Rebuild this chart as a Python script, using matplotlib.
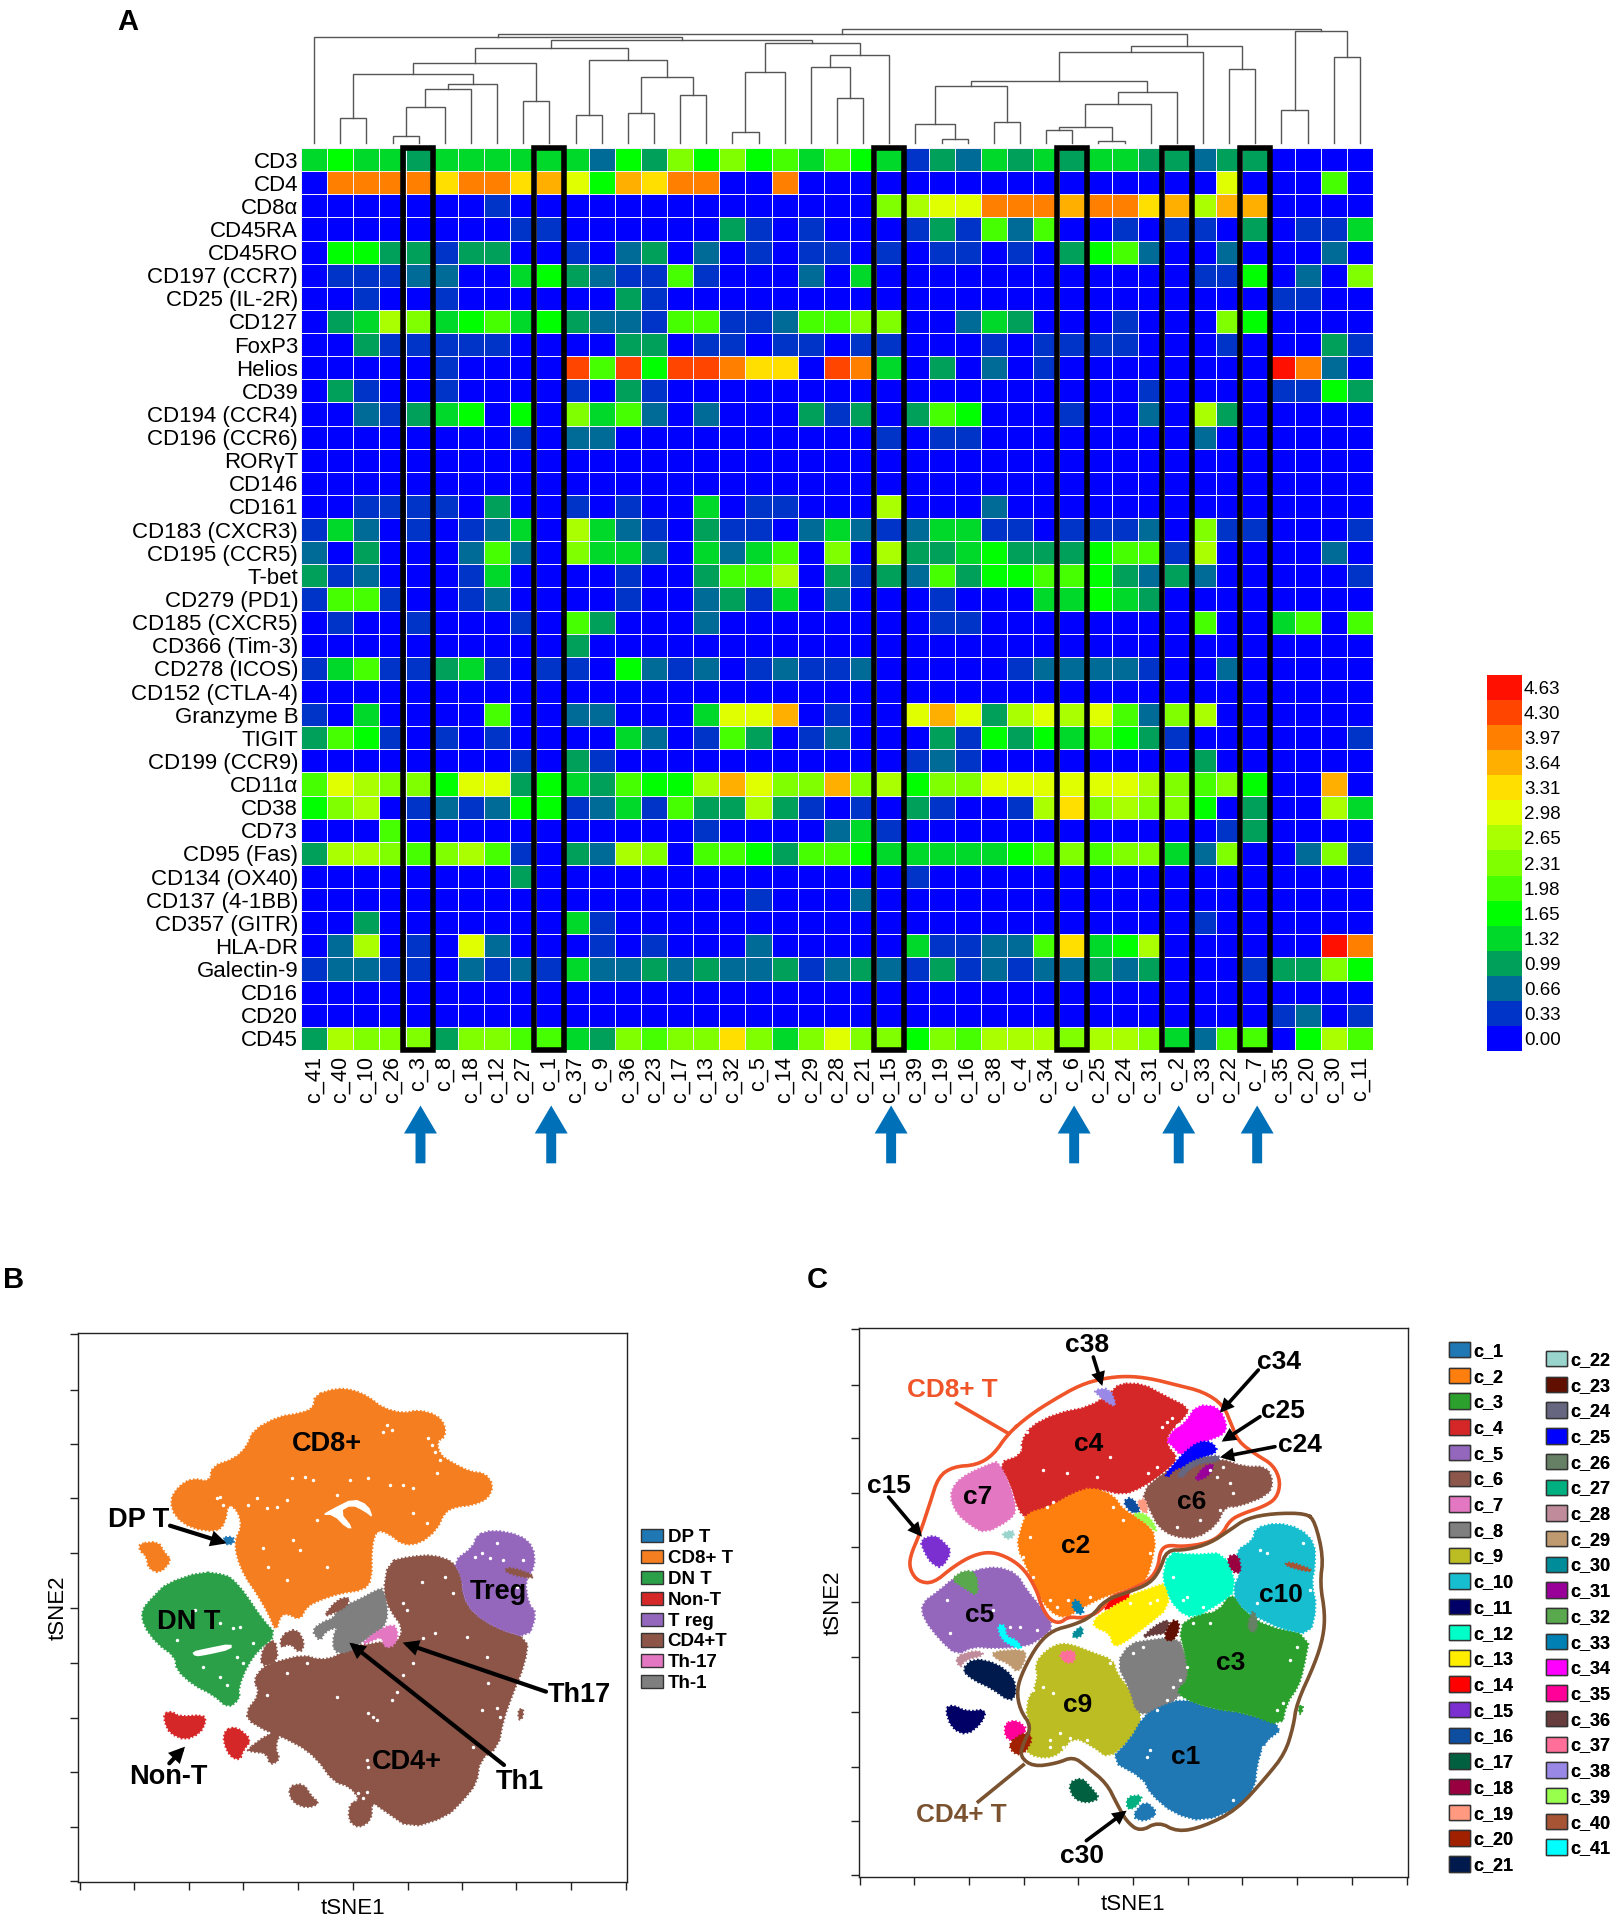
import matplotlib
matplotlib.use("Agg")
import matplotlib.pyplot as plt
import numpy as np
from matplotlib.colors import ListedColormap, BoundaryNorm
from matplotlib.patches import Rectangle, FancyArrow, Patch

plt.rcParams['font.family'] = ['Liberation Sans', 'DejaVu Sans']
W, H = 1617, 1920

# ---------- panel A data ----------
clusters = ['c_41','c_40','c_10','c_26','c_3','c_8','c_18','c_12','c_27','c_1','c_37','c_9','c_36','c_23','c_17','c_13','c_32','c_5','c_14','c_29','c_28','c_21','c_15','c_39','c_19','c_16','c_38','c_4','c_34','c_6','c_25','c_24','c_31','c_2','c_33','c_22','c_7','c_35','c_20','c_30','c_11']
markers = ['CD3','CD4','CD8α','CD45RA','CD45RO','CD197 (CCR7)','CD25 (IL-2R)','CD127','FoxP3','Helios','CD39','CD194 (CCR4)','CD196 (CCR6)','RORγT','CD146','CD161','CD183 (CXCR3)','CD195 (CCR5)','T-bet','CD279 (PD1)','CD185 (CXCR5)','CD366 (Tim-3)','CD278 (ICOS)','CD152 (CTLA-4)','Granzyme B','TIGIT','CD199 (CCR9)','CD11α','CD38','CD73','CD95 (Fas)','CD134 (OX40)','CD137 (4-1BB)','CD357 (GITR)','HLA-DR','Galectin-9','CD16','CD20','CD45']
scale_values = [0.00,0.33,0.66,0.99,1.32,1.65,1.98,2.31,2.65,2.98,3.31,3.64,3.97,4.30,4.63]
scale_colors = ['#0000ff','#0033c8','#006b96','#00a05a','#00d82a','#00ff00','#46ff00','#7fff00','#aaff00','#e0ff00','#ffdf00','#ffaf00','#ff7f00','#ff4500','#ff1000']
highlighted = ['c_3','c_1','c_15','c_6','c_2','c_7']

# each row: colour-scale class (index into scale_values) per cluster
CD3    = [4,5,4,4,3,4,4,4,4,4,4,2,5,3,7,5,7,5,6,4,6,5,4,1,3,2,4,3,4,3,4,4,3,3,2,3,3,0,0,0,0]
CD4    = [0,12,12,12,12,10,12,12,10,11,9,5,11,10,12,12,0,0,12,0,0,0,0,0,0,0,0,0,0,0,0,0,0,0,0,9,0,0,0,6,0]
CD8a   = [0,0,0,0,0,0,0,1,0,0,0,0,0,0,0,0,0,0,0,0,0,0,7,8,9,9,12,12,12,11,12,12,10,11,8,11,11,0,0,0,0]
CD45RA = [0,0,0,0,0,0,0,0,1,1,0,0,0,0,0,0,3,1,0,1,0,0,0,1,3,1,6,2,6,0,0,1,0,1,1,0,3,0,1,1,4]
CD45RO = [0,5,5,3,3,1,3,3,0,0,1,0,2,3,0,2,0,1,0,1,1,0,1,0,1,1,0,1,0,3,5,6,2,0,0,2,0,0,0,2,0]
CCR7   = [0,1,1,1,2,2,0,0,4,5,3,2,1,1,6,1,0,0,0,2,0,4,0,0,0,0,0,0,0,0,0,0,0,0,1,1,5,0,2,0,7]
CD25   = [0,0,1,0,0,1,0,0,0,0,0,0,3,1,0,0,0,0,0,0,0,0,0,0,0,0,0,0,0,0,0,0,0,0,0,0,0,1,1,0,0]
CD127  = [0,3,4,8,7,4,5,6,4,5,3,2,2,1,6,6,1,1,2,6,6,7,7,0,0,2,4,3,0,0,0,1,0,0,0,7,5,0,0,0,0]
FoxP3  = [0,0,3,1,1,1,1,1,0,0,0,0,3,3,0,1,1,0,1,1,0,1,1,0,0,0,1,0,1,1,1,1,0,0,0,1,0,0,0,3,1]
Helios = [0,0,0,0,0,1,0,0,0,0,13,6,13,5,13,13,12,10,10,0,13,12,4,0,3,0,2,0,1,0,0,0,0,0,0,0,0,14,12,2,0]
CD39   = [0,3,1,0,0,1,0,0,0,0,1,0,3,1,0,0,0,0,0,0,0,0,0,0,0,0,0,0,0,0,0,0,1,0,0,0,0,1,1,5,3]
CCR4   = [0,0,2,1,3,4,5,0,5,0,7,4,6,2,0,2,0,0,0,3,1,3,0,3,6,5,0,0,0,1,0,0,2,0,8,3,0,0,0,0,0]
CCR6   = [0,0,0,0,0,0,0,0,1,0,2,2,0,0,0,0,0,0,0,0,0,0,1,0,1,1,0,0,0,0,0,0,0,0,2,0,0,0,0,0,0]
RORgT  = [0]*41
CD146  = [0]*41
CD161  = [0,0,1,1,1,1,0,3,0,0,1,0,1,0,0,4,0,1,1,0,0,0,8,0,0,0,2,0,0,0,0,0,0,0,0,0,0,0,0,0,0]
CXCR3  = [1,4,2,0,1,0,1,2,4,0,8,4,2,1,0,3,1,1,0,2,4,2,1,2,4,4,1,1,0,1,1,1,2,0,7,1,1,0,0,0,1]
CCR5   = [2,0,3,0,0,0,2,6,2,0,7,4,4,2,0,4,2,4,6,0,7,0,8,3,3,4,5,3,3,3,5,6,6,1,8,0,0,0,0,2,0]
Tbet   = [3,1,2,0,0,0,1,4,0,0,0,0,1,0,0,3,6,6,8,0,3,1,3,2,6,3,5,5,6,6,5,3,2,3,2,0,0,0,0,0,1]
PD1    = [1,6,6,1,0,0,1,2,0,0,0,0,1,0,0,2,3,1,4,0,2,0,0,0,1,0,0,0,4,4,5,4,3,0,0,0,0,0,0,0,0]
CXCR5  = [0,1,0,0,1,0,0,0,1,0,6,3,0,0,0,2,0,0,0,0,0,0,0,0,1,1,0,0,0,0,0,0,0,0,6,0,0,4,6,0,6]
Tim3   = [0,0,0,0,0,0,0,0,0,0,3,0,0,0,0,0,0,0,0,0,0,0,0,0,0,0,0,0,0,0,0,0,0,0,0,0,0,0,0,0,0]
ICOS   = [1,4,6,1,1,3,4,1,0,1,1,0,5,2,1,2,0,1,2,1,1,2,0,0,0,0,0,1,2,2,2,2,1,0,0,2,0,0,0,0,0]
CTLA4  = [0]*41
GzmB   = [1,0,4,0,0,0,0,6,0,0,2,2,0,0,0,4,9,9,11,0,1,0,0,9,11,9,3,8,9,8,9,6,2,7,8,0,0,0,0,0,0]
TIGIT  = [3,6,5,1,0,1,0,1,0,0,0,0,4,2,0,1,6,3,0,1,2,0,0,0,3,1,5,3,5,4,6,5,3,1,0,0,0,0,0,0,1]
CCR9   = [0,0,0,0,0,0,0,0,1,0,3,1,0,0,0,0,0,0,0,0,0,0,0,1,2,1,0,0,0,0,0,0,0,0,3,0,0,0,0,0,0]
CD11a  = [6,9,8,7,7,5,9,9,3,5,4,3,6,5,5,8,11,9,7,7,11,7,8,5,7,7,9,9,9,9,9,9,8,7,6,7,5,0,0,11,0]
CD38   = [5,7,8,0,1,2,1,2,5,5,1,2,4,1,6,3,3,8,3,1,0,1,0,3,1,0,0,1,8,10,7,8,7,7,5,0,3,0,0,8,4]
CD73   = [0,0,0,6,0,0,0,0,0,0,0,0,0,0,0,1,0,0,0,0,2,4,1,0,0,0,0,0,0,0,0,0,0,0,0,1,3,0,0,0,0]
CD95   = [3,8,8,7,6,7,8,6,1,0,3,2,8,7,0,6,6,5,3,6,6,5,4,4,4,4,4,5,6,7,6,7,7,4,2,7,0,0,2,7,1]
OX40   = [0,0,0,0,0,0,0,0,3,0,0,0,0,0,0,0,0,0,0,0,0,0,0,1,0,0,0,0,0,0,0,0,0,0,0,0,0,0,0,0,0]
CD137  = [0,0,0,0,0,0,0,0,0,0,0,0,0,0,0,0,0,1,0,0,0,2,0,0,0,0,0,0,0,0,0,0,0,0,0,0,0,0,0,0,0]
GITR   = [0,0,3,0,0,0,0,0,0,0,4,1,0,0,0,0,0,0,0,0,0,0,0,0,0,0,0,0,0,0,0,0,0,0,1,0,0,0,0,0,0]
HLADR  = [0,2,8,0,1,0,9,2,0,0,0,1,0,1,0,0,0,2,0,0,0,0,0,4,1,1,2,2,6,10,4,5,8,0,0,0,0,0,0,14,12]
Gal9   = [1,2,2,1,1,0,2,1,2,1,4,2,2,3,2,3,2,2,3,1,2,3,2,1,3,1,2,1,2,2,3,2,3,0,0,0,1,3,3,7,5]
CD16   = [0]*41
CD20   = [0]*37 + [1,2,0,1]
CD45   = [3,8,7,7,7,3,7,7,6,6,4,3,7,6,7,7,10,7,4,7,9,7,7,5,7,6,8,8,8,7,8,8,7,4,2,6,6,0,5,8,6]
rows = [CD3,CD4,CD8a,CD45RA,CD45RO,CCR7,CD25,CD127,FoxP3,Helios,CD39,CCR4,CCR6,RORgT,CD146,CD161,CXCR3,CCR5,Tbet,PD1,CXCR5,Tim3,ICOS,CTLA4,GzmB,TIGIT,CCR9,CD11a,CD38,CD73,CD95,OX40,CD137,GITR,HLADR,Gal9,CD16,CD20,CD45]

# dendrogram merges: (node, left, right, height); ints are column positions
merges = [('a',3,4,7),('b','a',5,36),('c','b',6,54),('d','c',7,59),('e',1,2,25),('f','e','d',69),
          ('g',8,9,42),('h','f','g',80),('i',10,11,28),('j',12,13,30),('k',14,15,48),('l','j','k',66),
          ('m','i','l',83),('n','h','m',95),('o',16,17,11),('p','o',18,71),('q',20,21,45),('r',19,'q',76),
          ('s','r',22,88),('t','p','s',100),('u','n','t',103),('v',0,'u',106),
          ('w',24,25,4),('x',23,'w',19),('y',26,27,21),('z','x','y',57),('a2',28,29,13),('b2',30,31,2),
          ('c2','a2','b2',16),('d2','c2',32,39),('e2','d2',33,51),('f2','z','e2',62),('g2','f2',34,91),
          ('h2',35,36,74),('i2','g2','h2',97),('j2','v','i2',109),('k2',37,38,33),('l2',39,40,86),
          ('m2','k2','l2',112),('n2','j2','m2',114)]

# ---------- panel B data (regions traced on the tSNE map) ----------
B_CD8 = [(585,45),(650,25),(700,30),(745,50),(790,85),(850,100),(895,90),(950,105),(975,135),(975,170),(950,185),(960,225),(1000,250),(1050,275),(1095,280),(1120,315),(1105,355),(1060,375),(1010,380),(975,395),(950,450),(900,490),(850,495),(805,460),(770,450),(755,500),(755,600),(730,630),(660,640),(600,660),(560,680),(540,720),(500,700),(480,710),(468,755),(445,700),(410,640),(375,590),(350,530),(345,480),(365,440),(355,395),(325,370),(315,430),(290,455),(215,445),(165,410),(150,360),(175,320),(215,295),(270,305),(275,260),(345,235),(380,200),(400,150),(475,110),(540,100),(580,85)]
B_CD8_small = [(60,490),(115,485),(135,520),(155,540),(120,580),(85,565),(80,530),(58,510)]
B_DPT = [(308,472),(340,470),(342,490),(318,495)]
B_DNT = [(245,575),(320,585),(345,605),(375,640),(425,715),(470,765),(415,810),(380,860),(355,925),(360,955),(325,985),(280,945),(220,915),(170,870),(165,830),(110,790),(70,735),(65,690),(100,650),(140,610)]
B_hole_DN = [(215,815),(260,805),(335,790),(335,808),(260,825),(225,830)]
B_NonT1 = [(132,1000),(155,995),(180,1010),(250,1005),(258,1025),(240,1060),(195,1080),(150,1060),(135,1030)]
B_NonT2 = [(315,1050),(350,1040),(395,1080),(370,1110),(360,1140),(330,1130),(310,1085)]
B_Treg = [(1070,465),(1120,450),(1200,465),(1240,500),(1245,560),(1215,600),(1225,670),(1250,700),(1225,775),(1130,745),(1060,700),(1030,650),(1025,590),(1000,545),(1060,500)]
B_Treg_streak = [(1150,570),(1175,562),(1240,585),(1235,595),(1180,585)]
B_CD4 = [(805,545),(870,530),(940,525),(1000,545),(1025,590),(1030,650),(1060,700),(1130,745),(1225,775),(1215,850),(1175,950),(1150,1020),(1135,1100),(1080,1140),(1070,1210),(1030,1260),(980,1310),(870,1345),(790,1290),(755,1265),(755,1320),(715,1345),(685,1320),(690,1270),(720,1260),(690,1220),(640,1205),(590,1135),(530,1090),(400,1035),(375,1000),(420,940),(400,900),(430,860),(470,845),(550,825),(600,840),(650,830),(690,795),(735,795),(790,785),(830,790),(850,745),(810,690),(790,640)]
B_CD4_a = [(485,765),(530,745),(555,790),(540,820),(510,790),(480,805)]
B_CD4_b = [(505,1220),(550,1210),(575,1250),(600,1270),(560,1285),(515,1265)]
B_CD4_c = [(380,1110),(440,1065),(485,1050),(465,1100),(480,1140),(450,1155),(440,1120),(395,1115)]
B_CD4_d = [(1195,990),(1210,985),(1208,1015),(1196,1020)]
B_CD4_e = [(430,800),(465,775),(475,845),(420,860)]
B_CD4_f = [(610,710),(650,660),(690,650),(680,680),(640,700)]
B_Th1 = [(655,685),(715,660),(770,630),(790,625),(805,700),(790,745),(750,770),(720,790),(680,820),(640,815),(640,765),(655,740),(615,755),(600,785),(575,750),(610,725),(640,715)]
B_Th17 = [(725,795),(760,760),(820,730),(835,760),(825,795),(795,805),(785,770),(750,785)]
B_hole_CD8 = [(605,405),(640,385),(700,355),(745,375),(760,415),(735,395),(695,375),(660,395),(700,445),(680,445),(640,405)]
B_specks_x = [800,815,790,935,945,960,925,950,745,810,850,880,580,555,440,470,410,385,515,500,590,520,540,430,445,500,620,690,650,920,880,310,330,335,320,300,290,225,360,340,300,350,370,400,320,300,250,170,135,850,860,910,945,1040,1100,1105,1130,1140,760,770,745,830,815,650,500,440,560,740,745,1060,1085,715,730,740,1000,975,905,880,850,1085,1110,1150,1065,1130,1210,1190]
B_specks_y = [135,150,155,195,215,240,175,280,295,315,315,325,300,290,385,380,355,375,295,360,420,480,510,505,560,600,560,300,345,430,400,375,385,410,420,350,355,690,740,745,730,830,850,790,915,890,860,780,740,670,690,775,760,770,830,910,985,1010,1010,1020,1000,935,960,950,880,945,850,1140,1160,1100,990,1240,1255,1235,640,590,605,850,885,520,535,540,530,490,540,620]
B_legend = ['DP T','CD8+ T','DN T','Non-T','T reg','CD4+T','Th-17','Th-1']
B_legend_colors = ['#1f77b4','#f57f20','#2ca048','#d62728','#9467bd','#8c5548','#e377c2','#7f7f7f']

# ---------- panel C data ----------
C_names = ['c_%d' % i for i in range(1,42)]
C_colors = ['#1f77b4','#ff7f0e','#2ca02c','#d62728','#9467bd','#8c564b','#e377c2','#7f7f7f','#bcbd22','#17becf','#000066','#00ffc8','#ffee00','#ff0000','#7b2fd0','#0d4ea0','#006040','#990040','#ff9980','#a02000','#001a4d','#99d5cc','#600f00','#666680','#0000ff','#668066','#00b080','#c08c9c','#bf9970','#008c99','#990099','#59a84d','#0080b3','#ff00ff','#ff0099','#663c3c','#ff6f99','#9988e6','#99ff4d','#a65433','#00ffff']
C4 = [(630,40),(700,42),(760,75),(840,115),(820,145),(775,190),(770,225),(805,265),(765,305),(700,350),(640,375),(560,355),(490,370),(430,405),(350,445),(325,420),(300,340),(265,280),(335,255),(335,215),(360,170),(440,130),(540,110),(600,70)]
C7 = [(175,310),(245,280),(265,275),(300,345),(320,420),(300,450),(225,490),(180,465),(140,430),(120,380),(135,340)]
C2 = [(545,352),(610,375),(640,420),(700,450),(740,500),(720,600),(700,640),(625,665),(560,690),(505,720),(465,745),(420,725),(375,660),(355,600),(320,530),(335,470),(350,430),(420,410),(490,370)]
C6 = [(765,305),(830,280),(930,265),(1000,290),(1070,290),(1090,335),(1075,375),(985,410),(945,410),(920,465),(860,505),(790,500),(745,470),(720,420),(695,365)]
C34 = [(860,105),(925,110),(950,160),(945,190),(900,210),(860,220),(815,260),(785,225),(770,215),(790,180),(825,160)]
C25 = [(765,315),(790,285),(820,250),(865,215),(905,215),(925,245),(880,262),(820,290),(790,300),(775,322)]
C24 = [(800,320),(825,285),(875,262),(930,255),(925,275),(870,280),(835,300),(820,322)]
C31 = [(850,335),(880,290),(915,280),(895,320)]
C38 = [(550,60),(600,55),(620,110),(595,100),(570,80)]
C15 = [(30,510),(75,495),(105,520),(125,545),(95,595),(65,580),(45,550)]
C5 = [(200,600),(260,590),(320,610),(350,660),(400,720),(430,770),(400,800),(350,830),(250,835),(190,830),(140,855),(90,810),(40,745),(35,700),(90,660),(130,625)]
C32 = [(122,628),(165,600),(200,610),(205,680),(165,655)]
C41 = [(262,765),(285,765),(288,800),(320,810),(338,838),(310,830),(275,808)]
C28 = [(135,860),(200,840),(225,855),(165,870),(150,895)]
C29 = [(245,845),(340,838),(350,860),(325,910),(295,880),(255,865)]
C21 = [(155,900),(190,865),(260,880),(310,920),(320,970),(300,995),(245,955),(190,930)]
C11 = [(105,1015),(130,1005),(170,1025),(230,1018),(215,1060),(170,1095),(125,1075)]
C17 = [(475,1240),(515,1222),(545,1255),(570,1285),(530,1300),(490,1285)]
C35 = [(285,1060),(320,1050),(355,1080),(310,1115),(285,1100)]
C20 = [(295,1120),(345,1085),(370,1105),(340,1155),(310,1150)]
C9 = [(450,820),(490,825),(540,845),(610,870),(620,910),(660,960),(700,1040),(660,1110),(595,1165),(550,1130),(490,1100),(450,1150),(410,1165),(360,1155),(340,1125),(365,1075),(345,1010),(385,930),(375,880),(410,840)]
C8 = [(620,880),(660,820),(720,810),(805,800),(830,870),(835,930),(800,990),(730,1030),(680,1030),(660,960)]
C1 = [(820,985),(900,1015),(1010,1030),(1125,1070),(1060,1120),(1040,1190),(1035,1250),(990,1310),(880,1355),(790,1330),(720,1270),(700,1225),(600,1170),(660,1110),(700,1040),(740,1015)]
C1_b = [(665,1340),(705,1290),(745,1330),(705,1355)]
C3 = [(965,665),(1005,725),(1070,770),(1200,795),(1180,900),(1165,950),(1130,1000),(1115,1070),(1010,1030),(900,1015),(820,985),(800,960),(835,930),(830,870),(805,770),(860,735),(925,725)]
C3_b = [(1165,1010),(1180,1005),(1175,1030),(1168,1032)]
C10 = [(1035,475),(1100,458),(1170,475),(1215,520),(1215,590),(1205,640),(1220,710),(1200,795),(1110,775),(1060,750),(1005,725),(965,665),(995,600),(975,545),(1030,510)]
C12 = [(775,545),(840,555),(950,548),(980,660),(930,700),(850,745),(800,720),(755,640)]
C13 = [(650,680),(735,650),(765,640),(780,710),(700,775),(640,820),(610,830),(600,790),(550,770),(555,745),(585,725)]
C14 = [(580,725),(600,685),(655,665),(660,680),(620,700)]
C36 = [(695,805),(730,770),(780,745),(770,790),(725,795)]
C23 = [(760,805),(785,750),(808,755),(805,790),(785,815)]
C18 = [(950,560),(985,552),(995,610),(965,605)]
C40 = [(1120,585),(1140,575),(1210,600),(1190,605)]
C26 = [(1015,760),(1030,715),(1045,765),(1030,790),(1015,775)]
C33 = [(483,705),(500,685),(525,725),(505,735)]
C30 = [(485,795),(515,765),(520,795),(495,805)]
C16 = [(638,395),(665,380),(695,425),(665,430)]
C19 = [(680,395),(705,385),(715,425),(700,430)]
C39 = [(665,432),(700,428),(730,455),(742,490),(710,460)]
C22 = [(275,490),(310,480),(312,500),(290,508)]
C37 = [(445,848),(495,840),(495,875),(465,880)]
C27 = [(652,1320),(650,1280),(700,1275),(680,1310)]
C_regions = [(5,C5),(4,C4),(7,C7),(2,C2),(6,C6),(34,C34),(25,C25),(24,C24),(31,C31),(38,C38),(15,C15),(32,C32),(41,C41),(28,C28),(29,C29),(21,C21),(11,C11),(17,C17),(9,C9),(8,C8),(1,C1),(1,C1_b),(3,C3),(3,C3_b),(10,C10),(12,C12),(13,C13),(35,C35),(20,C20),(14,C14),(36,C36),(23,C23),(18,C18),(40,C40),(33,C33),(30,C30),(16,C16),(19,C19),(39,C39),(22,C22),(37,C37),(27,C27),(26,C26)]
C_outline_CD8 = [(295,190),(360,135),(430,90),(510,45),(580,25),(650,18),(720,25),(800,45),(880,65),(940,105),(965,165),(985,215),(1040,255),(1090,285),(1112,335),(1100,385),(1060,410),(1000,430),(960,450),(935,495),(890,520),(820,530),(770,525),(750,545),(745,590),(720,630),(660,660),(600,680),(570,725),(520,745),(475,740),(450,760),(420,750),(395,710),(380,660),(345,600),(300,565),(245,545),(190,555),(130,590),(70,640),(25,635),(0,600),(0,560),(30,490),(60,400),(85,320),(130,290),(200,285),(250,255)]
C_outline_CD4 = [(1190,430),(1215,455),(1240,560),(1230,640),(1245,730),(1240,800),(1215,880),(1160,1000),(1150,1070),(1125,1150),(1070,1220),(980,1320),(880,1370),(803,1386),(745,1355),(690,1385),(650,1355),(620,1300),(590,1240),(530,1190),(490,1160),(440,1180),(370,1190),(330,1160),(340,1120),(365,1070),(330,1020),(320,960),(340,900),(385,820),(430,780),(490,765),(545,740),(585,690),(660,665),(720,640),(750,600),(770,540),(830,540),(900,520),(960,480),(1010,445),(1090,430)]
C_specks_x = [770,785,755,800,740,715,560,400,410,430,470,600,350,330,610,640,720,730,370,420,440,475,540,360,340,970,960,800,870,930,900,940,920,120,300,330,380,250,110,370,400,430,420,450,480,460,530,420,600,810,790,770,740,700,670,830,850,900,1140,1120,1100,1130,1160,710,720,1060,1075,690,700,740,970,1050,1070,1180,1200,1040,820,830,790,880,720,660,740]
C_specks_y = [155,145,170,165,290,310,320,300,410,395,310,260,185,230,410,450,550,600,620,690,710,690,680,500,560,370,340,470,450,420,300,290,320,790,770,770,780,720,690,960,950,970,1110,1090,1105,1130,1110,1130,880,930,950,990,1020,830,850,890,760,760,870,1000,1020,1030,830,1160,1140,1130,1120,1240,1260,1300,1290,540,550,520,660,700,690,680,620,710,700,700,690]

# ---------- helpers ----------
def axes_px(x0, y0, x1, y1, **kw):
    return fig.add_axes([x0/W, 1-y1/H, (x1-x0)/W, (y1-y0)/H], **kw)

def smooth(pts, n=1):
    p = np.array(pts, float)
    for _ in range(n):
        q = np.roll(p, -1, axis=0)
        p = np.column_stack([0.75*p+0.25*q, 0.25*p+0.75*q]).reshape(-1, 2)
    return np.vstack([p, p[:1]])

def fill(ax, pts, color, z=2, grain=True):
    s = smooth(pts)
    ax.fill(s[:,0], s[:,1], color=color, lw=0, zorder=z)
    if grain:  # stippled rim like the edge of a point cloud
        ax.plot(s[:,0], s[:,1], color=color, lw=1.6, ls=(0, (0.7, 1.0)), zorder=z)

def arrow(ax, tail, head, lw=3.0, ms=17):
    ax.annotate('', xy=head, xytext=tail, zorder=8,
                arrowprops=dict(arrowstyle='-|>', lw=lw, color='k', mutation_scale=ms,
                                shrinkA=0, shrinkB=0, joinstyle='miter'))

def map_style(ax, xt, yt):
    ax.set_xticks(xt); ax.set_yticks(yt)
    ax.set_xticklabels([]); ax.set_yticklabels([])
    ax.tick_params(length=6, width=1, color='#222')
    for s in ax.spines.values():
        s.set_linewidth(1); s.set_color('#222')

fig = plt.figure(figsize=(W/100, H/100), dpi=100)

# ---------- panel A heatmap ----------
cmap = ListedColormap(scale_colors)
norm = BoundaryNorm(np.arange(-0.5, 15.5), 15)
ax = axes_px(301, 148, 1373, 1050)
Z = np.array(rows)
ax.pcolormesh(np.arange(42), np.arange(40), Z, cmap=cmap, norm=norm, edgecolors='#eeeeff', linewidth=0.45)
ax.set_xlim(0, 41); ax.set_ylim(39, 0)
ax.set_xticks(np.arange(41)+0.5); ax.set_xticklabels(clusters, rotation=90, fontsize=15.7, va='top', ha='center')
ax.set_yticks(np.arange(39)+0.5); ax.set_yticklabels(markers, fontsize=16)
ax.tick_params(length=0)
ax.tick_params(axis='x', pad=4.3); ax.tick_params(axis='y', pad=2)
for s in ax.spines.values():
    s.set_visible(False)
for name in highlighted:
    c = clusters.index(name)
    ax.add_patch(Rectangle((c-0.08, 0), 1.14, 39, fill=False, ec='k', lw=4, clip_on=False, zorder=5, joinstyle='miter'))
    ax.add_patch(FancyArrow(c+0.57, 43.9, 0, -2.5, width=0.38, head_width=1.26, head_length=1.21,
                            length_includes_head=True, color='#0070b8', lw=0, clip_on=False, zorder=5))

# dendrogram
dax = axes_px(301, 8, 1373, 143)
dax.set_xlim(0, 41); dax.set_ylim(0, 135); dax.axis('off')
pos = {}
def where(k):
    return (k+0.5, 0) if isinstance(k, int) else pos[k]
for name, l, r, h in merges:
    xl, yl = where(l); xr, yr = where(r)
    dax.plot([xl, xl, xr, xr], [yl, h, h, yr], color='#555555', lw=1.0, solid_joinstyle='miter', clip_on=False)
    pos[name] = ((xl+xr)/2, h)

# colour scale
cax = axes_px(1487, 675, 1522, 1051)
cax.pcolormesh([0, 1], np.arange(16), np.arange(15)[:, None], cmap=cmap, norm=norm)
cax.set_xticks([]); cax.yaxis.tick_right()
cax.set_yticks(np.arange(15)+0.5); cax.set_yticklabels(['%.2f' % v for v in scale_values], fontsize=13.5)
cax.tick_params(length=0, pad=1.5)
for s in cax.spines.values():
    s.set_visible(False)

# ---------- panel B ----------
bx = axes_px(78, 1333, 627, 1882)
bx.set_xlim(-126, 1521); bx.set_ylim(1506, -141)
map_style(bx, [-121,43,207,370,533,700,864,1027,1189,1353,1518], [-137,29,193,355,519,683,850,1014,1177,1341,1504])
bc = dict(zip(B_legend, B_legend_colors))
fill(bx, B_CD8, bc['CD8+ T']); fill(bx, B_CD8_small, bc['CD8+ T'])
for part in (B_CD4, B_CD4_a, B_CD4_b, B_CD4_c, B_CD4_d, B_CD4_e):
    fill(bx, part, bc['CD4+T'])
fill(bx, B_DNT, bc['DN T']); fill(bx, B_NonT1, bc['Non-T']); fill(bx, B_NonT2, bc['Non-T'])
fill(bx, B_Treg, bc['T reg']); fill(bx, B_Treg_streak, bc['CD4+T'], 3)
fill(bx, B_Th1, bc['Th-1'], 3); fill(bx, B_CD4_f, bc['CD4+T'], 3); fill(bx, B_Th17, bc['Th-17'], 3); fill(bx, B_DPT, bc['DP T'], 3)
fill(bx, B_hole_DN, 'white', 4, False); fill(bx, B_hole_CD8, 'white', 4, False)
bx.scatter(B_specks_x, B_specks_y, s=6, c='white', lw=0, zorder=4)
for t, x, y in [('CD8+',620,192),('DN T',207,727),('Treg',1135,635),('CD4+',862,1146),('DP T',55,421),('Non-T',145,1190),('Th17',1379,946),('Th1',1200,1205)]:
    bx.text(x, y, t, fontsize=19.5, fontweight='bold', ha='center', va='center', zorder=9)
arrow(bx, (150,437), (320,490)); arrow(bx, (148,1150), (195,1100)); arrow(bx, (1278,935), (848,788)); arrow(bx, (1152,1155), (688,788))
bx.set_xlabel('tSNE1', fontsize=16, labelpad=2); bx.set_ylabel('tSNE2', fontsize=16, labelpad=-3)
fig.legend(handles=[Patch(fc=c, ec='#333333', lw=1, label=n) for n, c in zip(B_legend, B_legend_colors)],
           loc='upper left', bbox_to_anchor=(641/W, 1-1529/H), frameon=False, borderpad=0, borderaxespad=0,
           handlelength=1.17, handleheight=0.7, handletextpad=0.25, labelspacing=0.2,
           prop=dict(size=13.5, weight='bold'))

# ---------- panel C ----------
kx = axes_px(858.6, 1328, 1408, 1877)
kx.set_xlim(-154, 1494); kx.set_ylim(1521, -126)
map_style(kx, [-150,13,176,341,504,670,834,997,1160,1325,1491], [-123,44,205,369,532,696,862,1026,1190,1353,1516])
for idx, pts in C_regions:
    fill(kx, pts, C_colors[idx-1])
kx.scatter(C_specks_x, C_specks_y, s=6, c='white', lw=0, zorder=4)
cd8c, cd4c = '#f0552a', '#7a5230'
s = smooth(C_outline_CD8, 2); kx.plot(s[:,0], s[:,1], color=cd8c, lw=2.6, zorder=6)
s = smooth(C_outline_CD4, 2); kx.plot(s[:,0], s[:,1], color=cd4c, lw=2.6, zorder=6)
kx.plot([295,140], [190,100], color=cd8c, lw=2.6, zorder=6)
kx.plot([340,205], [1185,1295], color=cd4c, lw=2.6, zorder=6)
kx.text(127, 60, 'CD8+ T', color=cd8c, fontsize=18.8, fontweight='bold', ha='center', va='center', zorder=9)
kx.text(155, 1335, 'CD4+ T', color=cd4c, fontsize=18.8, fontweight='bold', ha='center', va='center', zorder=9)
for t, x, y in [('c38',531,-75),('c34',1108,-24),('c25',1118,122),('c24',1170,225),('c15',-64,348),('c30',516,1458),('c7',203,380),('c4',535,222),('c2',497,527),('c6',845,397),('c5',210,735),('c10',1112,675),('c3',962,880),('c9',503,1005),('c1',828,1162)]:
    kx.text(x, y, t, fontsize=19, fontweight='bold', ha='center', va='center', zorder=9)
arrow(kx, (550,-39), (577,48), 2.6, 15); arrow(kx, (1045,0), (930,128), 2.6, 15); arrow(kx, (1050,140), (935,215), 2.6, 15)
arrow(kx, (1095,230), (930,262), 2.6, 15); arrow(kx, (-64,381), (36,500), 2.6, 15); arrow(kx, (529,1412), (650,1322), 2.6, 15)
kx.set_xlabel('tSNE1', fontsize=16, labelpad=3); kx.set_ylabel('tSNE2', fontsize=16, labelpad=1.5)
for names, colors, left, top in [(C_names[:21], C_colors[:21], 1449, 1342), (C_names[21:], C_colors[21:], 1546, 1351)]:
    lg = fig.legend(handles=[Patch(fc=c, ec='#333333', lw=1, label=n) for n, c in zip(names, colors)],
               loc='upper left', bbox_to_anchor=(left/W, 1-top/H), frameon=False, borderpad=0, borderaxespad=0,
               handlelength=1.17, handleheight=0.94, handletextpad=0.2, labelspacing=0.43,
               prop=dict(size=13, weight='bold'))
    fig.add_artist(lg)

# panel letters
for t, x, y in [('A',128,22),('B',14,1280),('C',817,1280)]:
    fig.text(x/W, 1-y/H, t, fontsize=21, fontweight='bold', ha='center', va='center')

fig.savefig('out.png', dpi=100)
